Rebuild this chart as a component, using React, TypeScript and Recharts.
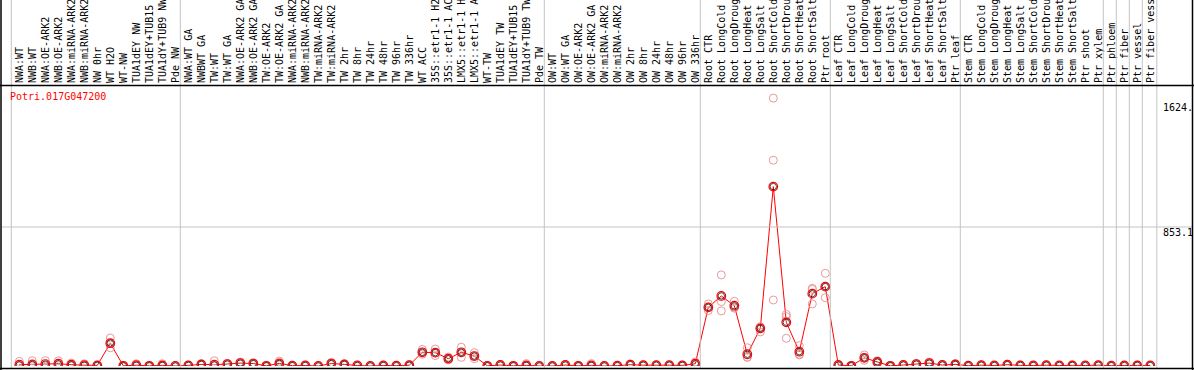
import React from 'react';
import { ComposedChart, Line, XAxis, YAxis } from 'recharts';

const categories = [
  'NWA:WT', 'NWB:WT', 'NWA:OE-ARK2', 'NWB:OE-ARK2', 'NWA:miRNA-ARK2', 'NWB:miRNA-ARK2', 'NW 0hr',
  'WT H2O', 'WT-NW', 'TUA1dEY NW', 'TUA1dEY+TUB15', 'TUA1dY+TUB9 NW', 'Pde NW',
  'NWA:WT GA', 'NWBWT GA', 'TW:WT', 'TW:WT GA', 'NWA:OE-ARK2 GA', 'NWB:OE-ARK2 GA', 'TW:OE-ARK2',
  'TW:OE-ARK2 GA', 'NWA:miRNA-ARK2', 'NWB:miRNA-ARK2', 'TW:miRNA-ARK2', 'TW:miRNA-ARK2', 'TW 2hr',
  'TW 8hr', 'TW 24hr', 'TW 48hr', 'TW 96hr', 'TW 336hr', 'WT ACC', '35S::etr1-1 H2', '35S::etr1-1 AC',
  'LMX5::etr1-1 H', 'LMX5::etr1-1 A', 'WT-TW', 'TUA1dEY TW', 'TUA1dEY+TUB15', 'TUA1dY+TUB9 TW', 'Pde TW',
  'OW:WT', 'OW:WT GA', 'OW:OE-ARK2', 'OW:OE-ARK2 GA', 'OW:miRNA-ARK2', 'OW:miRNA-ARK2', 'OW 2hr',
  'OW 8hr', 'OW 24hr', 'OW 48hr', 'OW 96hr', 'OW 336hr',
  'Root CTR', 'Root LongCold', 'Root LongDroug', 'Root LongHeat', 'Root LongSalt', 'Root ShortCold',
  'Root ShortDrou', 'Root ShortHeat', 'Root ShortSalt', 'Ptr root',
  'Leaf CTR', 'Leaf LongCold', 'Leaf LongDroug', 'Leaf LongHeat', 'Leaf LongSalt', 'Leaf ShortCold',
  'Leaf ShortDrou', 'Leaf ShortHeat', 'Leaf ShortSalt', 'Ptr leaf',
  'Stem CTR', 'Stem LongCold', 'Stem LongDroug', 'Stem LongHeat', 'Stem LongSalt', 'Stem ShortCold',
  'Stem ShortDrou', 'Stem ShortHeat', 'Stem ShortSalt', 'Ptr shoot', 'Ptr xylem',
  'Ptr phloem', 'Ptr fiber', 'Ptr vessel', 'Ptr fiber vess',
];

const groupStartIdx = [0, 13, 41, 53, 63, 73, 84, 85, 86, 87];

const meanValues = [
  8, 10, 12, 14, 8, 5, 4, 140, 1, 5, 1, 4, 0,
  4, 10, 8, 12, 18, 15, 1, 16, 2, 3, 0, 15, 10, 3, 0, 3, 2, 5, 84, 82, 45, 84, 61, 1, 6, 1, 4, 0,
  0, 6, 1, 4, 0, 2, 8, 5, 5, 5, 4, 14,
  360, 430, 370, 72, 231, 1101, 268, 88, 444, 487,
  6, 1, 50, 25, 1, 6, 12, 18, 6, 10,
  2, 5, 3, 8, 4, 3, 5, 3, 4, 3, 5,
  2, 3, 4, 3,
];

const rep1 = [
  28, 32, 33, 32, 18, 14, 6, 172, 2, 14, 2, 14, 0,
  6, 14, 32, 16, 24, 20, 2, 30, 4, 5, 0, 22, 14, 5, 0, 5, 3, 8, 102, 104, 55, 115, 82, 2, 9, 2, 15, 0,
  0, 8, 2, 15, 0, 3, 12, 7, 7, 7, 6, 25,
  381, 559, 397, 112, 241, 1644, 317, 125, 477, 569,
  8, 2, 68, 32, 2, 8, 16, 24, 8, 14,
  3, 7, 4, 11, 6, 4, 7, 4, 6, 4, 7,
  3, 4, 6, 4,
];

const rep2 = [
  0, 2, 3, 8, 6, 1, 3, 140, 1, 1, 1, 0, 0,
  4, 10, 0, 12, 18, 15, 1, 12, 2, 3, 0, 14, 10, 3, 0, 3, 2, 5, 84, 80, 45, 84, 60, 1, 6, 1, 2, 0,
  0, 6, 1, 0, 0, 2, 8, 5, 5, 5, 4, 14,
  360, 395, 360, 53, 231, 1263, 303, 68, 470, 487,
  6, 1, 50, 25, 1, 6, 12, 18, 6, 10,
  2, 5, 3, 8, 4, 3, 5, 3, 4, 3, 5,
  2, 3, 4, 3,
];

const rep3 = [
  0, 0, 0, 2, 0, 0, 2, 112, 0, 0, 0, 0, 0,
  2, 6, 0, 8, 12, 10, 0, 6, 0, 1, 0, 9, 6, 1, 0, 1, 1, 2, 72, 64, 38, 53, 45, 0, 3, 0, 0, 0,
  0, 4, 0, 0, 0, 1, 5, 3, 3, 3, 2, 4,
  340, 338, 355, 55, 209, 405, 170, 72, 381, 419,
  4, 0, 35, 18, 0, 4, 8, 12, 4, 6,
  1, 3, 2, 5, 2, 2, 3, 2, 2, 2, 3,
  1, 2, 2, 2,
];

const yTicks = [0, 853.1, 1624];
const yTickLabels = ['0', '853.1', '1624.'];
const geneId = 'Potri.017G047200';

const rows = categories.map((name, i) => ({
  id: i,
  name,
  mean: meanValues[i],
  r1: rep1[i],
  r2: rep2[i],
  r3: rep3[i],
}));

const FONT = '"DejaVu Sans Mono", monospace';
const GRID = '#c4c4c4';
const REP = '#e99a9a';

const XTick = (props: any) => {
  const { x, payload } = props;
  const i = Number(payload.value);
  const label = categories[i];
  const last = i === categories.length - 1;
  return (
    <g>
      {groupStartIdx.includes(i) && (
        <line x1={x - 8} x2={x - 8} y1={0} y2={368} stroke={GRID} strokeWidth={1} />
      )}
      {last && <line x1={x + 6.5} x2={x + 6.5} y1={0} y2={368} stroke={GRID} strokeWidth={1} />}
      <text
        x={x}
        y={83}
        dy="0.36em"
        transform={`rotate(-90 ${x} 83)`}
        textAnchor="start"
        fontFamily={FONT}
        fontSize={10}
        fill="#000"
      >
        {label}
      </text>
    </g>
  );
};

const YTick = (props: any) => {
  const { y, payload } = props;
  const v = Number(payload.value);
  const idx = yTicks.indexOf(v);
  const label = yTickLabels[idx] ?? String(v);
  return (
    <g>
      {v === 853.1 && <line x1={1} x2={1192} y1={y} y2={y} stroke={GRID} strokeWidth={1} />}
      <text x={1163} y={v === 0 ? y - 1 : y + 9.5} fontFamily={FONT} fontSize={10} fill="#000" textAnchor="start">
        {label}
      </text>
    </g>
  );
};

const MeanDot = (props: any) => {
  const { cx, cy, index } = props;
  if (cx == null || cy == null) return <g key={`m${index}`} />;
  return (
    <g key={`m${index}`}>
      <circle cx={cx} cy={cy} r={4.3} fill="none" stroke="#ff0000" strokeWidth={1.2} />
      <circle cx={cx} cy={cy} r={3.2} fill="none" stroke="#000" strokeWidth={0.7} />
    </g>
  );
};

const repDot = { r: 4, stroke: REP, strokeWidth: 1, fill: 'none' };

export default function App() {
  return (
    <div style={{ position: 'absolute', left: 0, top: 0, width: 1194, height: 370, background: '#fff' }}>
      <ComposedChart
        width={1194}
        height={370}
        data={rows}
        margin={{ top: 6, right: 1.2, left: 12.8, bottom: 4 }}
      >
        <XAxis
          dataKey="id"
          type="category"
          orientation="top"
          height={80}
          interval={0}
          padding={{ left: 6.5, right: 6.5 }}
          tick={XTick}
          tickLine={false}
          axisLine={false}
        />
        <YAxis
          orientation="right"
          type="number"
          width={36}
          domain={[0, 1718.4]}
          ticks={yTicks}
          allowDataOverflow
          tick={YTick}
          tickLine={false}
          axisLine={false}
        />
        <Line dataKey="r1" stroke="none" dot={repDot} activeDot={false} isAnimationActive={false} />
        <Line dataKey="r2" stroke="none" dot={repDot} activeDot={false} isAnimationActive={false} />
        <Line dataKey="r3" stroke="none" dot={repDot} activeDot={false} isAnimationActive={false} />
        <Line
          dataKey="mean"
          type="linear"
          stroke="#ff0000"
          strokeWidth={1}
          dot={MeanDot}
          activeDot={false}
          isAnimationActive={false}
        />
      </ComposedChart>
      <svg
        width={1194}
        height={370}
        style={{ position: 'absolute', left: 0, top: 0, pointerEvents: 'none' }}
      >
        <line x1={1} x2={1} y1={0} y2={370} stroke="#000" strokeWidth={1.5} />
        <line x1={1192.5} x2={1192.5} y1={0} y2={370} stroke="#000" strokeWidth={1.5} />
        <line x1={0} x2={1194} y1={85.5} y2={85.5} stroke="#000" strokeWidth={1.5} />
        <line x1={0} x2={1194} y1={368.5} y2={368.5} stroke="#000" strokeWidth={1.5} />
        <text x={10} y={100} fontFamily={FONT} fontSize={10} fill="#ff0000">
          {geneId}
        </text>
      </svg>
    </div>
  );
}
